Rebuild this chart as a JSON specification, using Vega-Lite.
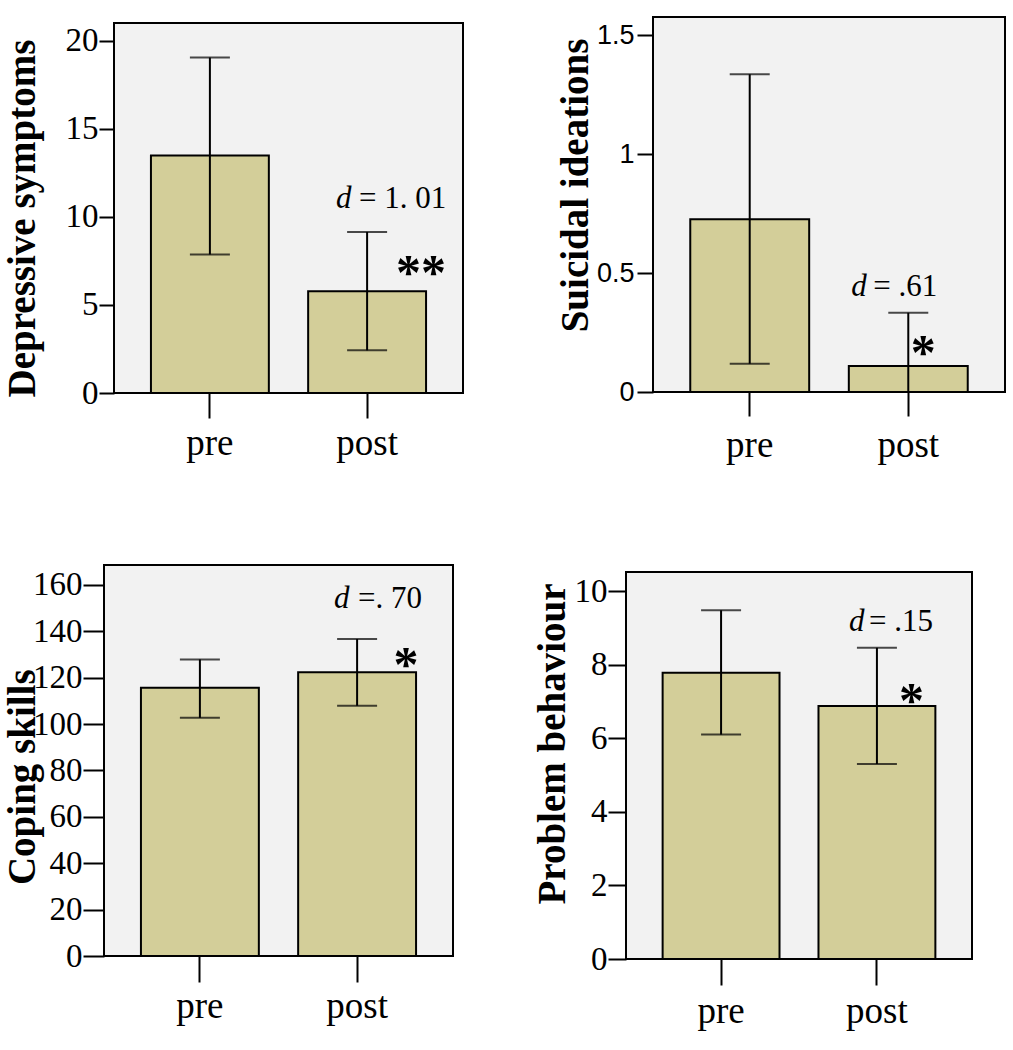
{
  "$schema": "https://vega.github.io/schema/vega-lite/v6.json",
  "padding": {"left": 1, "top": 16, "right": 5, "bottom": 5},
  "background": "white",
  "config": {
    "view": {"stroke": "black", "strokeWidth": 2, "fill": "#f2f2f2"},
    "axis": {"grid": false, "domain": false, "tickColor": "black", "tickWidth": 2, "labelColor": "black", "titleColor": "black", "labelFont": "Liberation Serif", "titleFont": "Liberation Serif", "titleFontWeight": "bold", "titleFontSize": 39}
  },
  "datasets": {
    "d": [
      {"panel": "dep", "time": "pre", "mean": 13.48, "lo": 7.86, "hi": 19.04, "dlab": "", "rest": "", "ty": null, "star": "", "sy": null},
      {"panel": "dep", "time": "post", "mean": 5.78, "lo": 2.42, "hi": 9.14, "dlab": "d", "rest": "= 1. 01", "ty": 10.48, "star": "**", "sy": 5.92},
      {"panel": "sui", "time": "pre", "mean": 0.726, "lo": 0.119, "hi": 1.335, "dlab": "", "rest": "", "ty": null, "star": "", "sy": null},
      {"panel": "sui", "time": "post", "mean": 0.109, "lo": -0.115, "hi": 0.333, "dlab": "d", "rest": "= .61", "ty": 0.403, "star": "*", "sy": 0.097},
      {"panel": "cop", "time": "pre", "mean": 115.7, "lo": 102.7, "hi": 127.9, "dlab": "", "rest": "", "ty": null, "star": "", "sy": null},
      {"panel": "cop", "time": "post", "mean": 122.3, "lo": 107.9, "hi": 136.7, "dlab": "d", "rest": "=. 70", "ty": 149.9, "star": "*", "sy": 118.7},
      {"panel": "prob", "time": "pre", "mean": 7.78, "lo": 6.1, "hi": 9.48, "dlab": "", "rest": "", "ty": null, "star": "", "sy": null},
      {"panel": "prob", "time": "post", "mean": 6.88, "lo": 5.3, "hi": 8.46, "dlab": "d", "rest": "= .15", "ty": 8.91, "star": "*", "sy": 6.59}
    ]
  },
  "spacing": 100,
  "vconcat": [
    {
      "spacing": 91,
      "hconcat": [
        {
          "spacing": 0,
          "hconcat": [
            {"width": 1, "height": 1, "view": {"stroke": null, "fill": null}, "data": {"values": []}, "mark": "point"},
            {
              "spacing": 0,
              "vconcat": [
                {"width": 1, "height": 5, "view": {"stroke": null, "fill": null}, "data": {"values": []}, "mark": "point"},
                {
                  "width": 349, "height": 370,
                  "data": {"name": "d"},
                  "transform": [{"filter": "datum.panel == 'dep'"}],
                  "encoding": {"x": {"field": "time", "type": "nominal", "sort": ["pre", "post"], "scale": {"paddingInner": 0.25, "paddingOuter": 0.235}, "axis": {"title": null, "labelAngle": 0, "labelFontSize": 37, "tickSize": 25, "labelPadding": 36, "labelBaseline": "alphabetic"}}},
                  "layer": [
                    {"mark": {"type": "bar", "fill": "#d3ce99", "stroke": "black", "strokeWidth": 2},
                     "encoding": {"y": {"field": "mean", "type": "quantitative", "scale": {"domain": [0, 21], "nice": false}, "axis": {"title": "Depressive symptoms", "values": [0, 5, 10, 15, 20], "labelFontSize": 33, "tickSize": 15, "labelPadding": 1, "titleX": -79.5, "titleY": 195, "titleBaseline": "alphabetic", "titleAngle": 270}}}},
                    {"mark": {"type": "rule", "strokeWidth": 2, "color": "black", "clip": true}, "encoding": {"y": {"field": "lo", "type": "quantitative"}, "y2": {"field": "hi"}}},
                    {"mark": {"type": "tick", "thickness": 2, "size": 40, "color": "black", "clip": true}, "encoding": {"y": {"field": "lo", "type": "quantitative"}}},
                    {"mark": {"type": "tick", "thickness": 2, "size": 40, "color": "black", "clip": true}, "encoding": {"y": {"field": "hi", "type": "quantitative"}}},
                    {"mark": {"type": "text", "font": "Liberation Serif", "fontSize": 31, "fontStyle": "italic", "align": "left", "baseline": "alphabetic", "dx": -31}, "encoding": {"y": {"field": "ty", "type": "quantitative"}, "text": {"field": "dlab"}}},
                    {"mark": {"type": "text", "font": "Liberation Serif", "fontSize": 31, "align": "left", "baseline": "alphabetic", "dx": -8}, "encoding": {"y": {"field": "ty", "type": "quantitative"}, "text": {"field": "rest"}}},
                    {"mark": {"type": "text", "font": "Liberation Serif", "fontSize": 50, "fontWeight": "bold", "align": "center", "baseline": "alphabetic", "dx": 54}, "encoding": {"y": {"field": "sy", "type": "quantitative"}, "text": {"field": "star"}}}
                  ]
                }
              ]
            }
          ]
        },
        {
          "width": 352, "height": 375,
          "data": {"name": "d"},
          "transform": [{"filter": "datum.panel == 'sui'"}],
          "encoding": {"x": {"field": "time", "type": "nominal", "sort": ["pre", "post"], "scale": {"paddingInner": 0.25, "paddingOuter": 0.235}, "axis": {"title": null, "labelAngle": 0, "labelFontSize": 37, "tickSize": 24, "labelPadding": 40, "labelBaseline": "alphabetic"}}},
          "layer": [
            {"mark": {"type": "bar", "fill": "#d3ce99", "stroke": "black", "strokeWidth": 2},
             "encoding": {"y": {"field": "mean", "type": "quantitative", "scale": {"domain": [0, 1.576], "nice": false}, "axis": {"title": "Suicidal ideations", "values": [0, 0.5, 1, 1.5], "format": "~g", "labelFont": "Liberation Sans", "labelFontSize": 27, "tickSize": 16, "labelPadding": 3, "titleX": -65.3, "titleY": 168, "titleBaseline": "alphabetic", "titleAngle": 270}}}},
            {"mark": {"type": "rule", "strokeWidth": 2, "color": "black", "clip": true}, "encoding": {"y": {"field": "lo", "type": "quantitative"}, "y2": {"field": "hi"}}},
            {"mark": {"type": "tick", "thickness": 2, "size": 40, "color": "black", "clip": true}, "encoding": {"y": {"field": "lo", "type": "quantitative"}}},
            {"mark": {"type": "tick", "thickness": 2, "size": 40, "color": "black", "clip": true}, "encoding": {"y": {"field": "hi", "type": "quantitative"}}},
            {"mark": {"type": "text", "font": "Liberation Serif", "fontSize": 31, "fontStyle": "italic", "align": "left", "baseline": "alphabetic", "dx": -57}, "encoding": {"y": {"field": "ty", "type": "quantitative"}, "text": {"field": "dlab"}}},
            {"mark": {"type": "text", "font": "Liberation Serif", "fontSize": 31, "align": "left", "baseline": "alphabetic", "dx": -35}, "encoding": {"y": {"field": "ty", "type": "quantitative"}, "text": {"field": "rest"}}},
            {"mark": {"type": "text", "font": "Liberation Serif", "fontSize": 50, "fontWeight": "bold", "align": "center", "baseline": "alphabetic", "dx": 15}, "encoding": {"y": {"field": "sy", "type": "quantitative"}, "text": {"field": "star"}}}
          ]
        }
      ]
    },
    {
      "spacing": 77,
      "hconcat": [
        {
          "spacing": 0,
          "hconcat": [
            {"width": 1, "height": 1, "view": {"stroke": null, "fill": null}, "data": {"values": []}, "mark": "point"},
            {
              "width": 349, "height": 391,
              "data": {"name": "d"},
              "transform": [{"filter": "datum.panel == 'cop'"}],
              "encoding": {"x": {"field": "time", "type": "nominal", "sort": ["pre", "post"], "scale": {"paddingInner": 0.25, "paddingOuter": 0.235}, "axis": {"title": null, "labelAngle": 0, "labelFontSize": 37, "tickSize": 26, "labelPadding": 35, "labelBaseline": "alphabetic"}}},
              "layer": [
                {"mark": {"type": "bar", "fill": "#d3ce99", "stroke": "black", "strokeWidth": 2},
                 "encoding": {"y": {"field": "mean", "type": "quantitative", "scale": {"domain": [0, 168.6], "nice": false}, "axis": {"title": "Coping skills", "values": [0, 20, 40, 60, 80, 100, 120, 140, 160], "labelFontSize": 33, "tickSize": 21, "labelPadding": 1, "titleX": -69.7, "titleY": 211.7, "titleBaseline": "alphabetic", "titleAngle": 270}}}},
                {"mark": {"type": "rule", "strokeWidth": 2, "color": "black", "clip": true}, "encoding": {"y": {"field": "lo", "type": "quantitative"}, "y2": {"field": "hi"}}},
                {"mark": {"type": "tick", "thickness": 2, "size": 40, "color": "black", "clip": true}, "encoding": {"y": {"field": "lo", "type": "quantitative"}}},
                {"mark": {"type": "tick", "thickness": 2, "size": 40, "color": "black", "clip": true}, "encoding": {"y": {"field": "hi", "type": "quantitative"}}},
                {"mark": {"type": "text", "font": "Liberation Serif", "fontSize": 31, "fontStyle": "italic", "align": "left", "baseline": "alphabetic", "dx": -23}, "encoding": {"y": {"field": "ty", "type": "quantitative"}, "text": {"field": "dlab"}}},
                {"mark": {"type": "text", "font": "Liberation Serif", "fontSize": 31, "align": "left", "baseline": "alphabetic", "dx": 1}, "encoding": {"y": {"field": "ty", "type": "quantitative"}, "text": {"field": "rest"}}},
                {"mark": {"type": "text", "font": "Liberation Serif", "fontSize": 50, "fontWeight": "bold", "align": "center", "baseline": "alphabetic", "dx": 49}, "encoding": {"y": {"field": "sy", "type": "quantitative"}, "text": {"field": "star"}}}
              ]
            }
          ]
        },
        {
          "spacing": 0,
          "vconcat": [
            {"width": 1, "height": 6, "view": {"stroke": null, "fill": null}, "data": {"values": []}, "mark": "point"},
            {
              "width": 346, "height": 387,
              "data": {"name": "d"},
              "transform": [{"filter": "datum.panel == 'prob'"}],
              "encoding": {"x": {"field": "time", "type": "nominal", "sort": ["pre", "post"], "scale": {"paddingInner": 0.25, "paddingOuter": 0.235}, "axis": {"title": null, "labelAngle": 0, "labelFontSize": 37, "tickSize": 26, "labelPadding": 37, "labelBaseline": "alphabetic"}}},
              "layer": [
                {"mark": {"type": "bar", "fill": "#d3ce99", "stroke": "black", "strokeWidth": 2},
                 "encoding": {"y": {"field": "mean", "type": "quantitative", "scale": {"domain": [0, 10.52], "nice": false}, "axis": {"title": "Problem behaviour", "values": [0, 2, 4, 6, 8, 10], "labelFontSize": 33, "tickSize": 18, "labelPadding": 1, "titleX": -62, "titleY": 171.5, "titleBaseline": "alphabetic", "titleAngle": 270}}}},
                {"mark": {"type": "rule", "strokeWidth": 2, "color": "black", "clip": true}, "encoding": {"y": {"field": "lo", "type": "quantitative"}, "y2": {"field": "hi"}}},
                {"mark": {"type": "tick", "thickness": 2, "size": 40, "color": "black", "clip": true}, "encoding": {"y": {"field": "lo", "type": "quantitative"}}},
                {"mark": {"type": "tick", "thickness": 2, "size": 40, "color": "black", "clip": true}, "encoding": {"y": {"field": "hi", "type": "quantitative"}}},
                {"mark": {"type": "text", "font": "Liberation Serif", "fontSize": 31, "fontStyle": "italic", "align": "left", "baseline": "alphabetic", "dx": -28}, "encoding": {"y": {"field": "ty", "type": "quantitative"}, "text": {"field": "dlab"}}},
                {"mark": {"type": "text", "font": "Liberation Serif", "fontSize": 31, "align": "left", "baseline": "alphabetic", "dx": -8}, "encoding": {"y": {"field": "ty", "type": "quantitative"}, "text": {"field": "rest"}}},
                {"mark": {"type": "text", "font": "Liberation Serif", "fontSize": 50, "fontWeight": "bold", "align": "center", "baseline": "alphabetic", "dx": 34.5}, "encoding": {"y": {"field": "sy", "type": "quantitative"}, "text": {"field": "star"}}}
              ]
            }
          ]
        }
      ]
    }
  ]
}
